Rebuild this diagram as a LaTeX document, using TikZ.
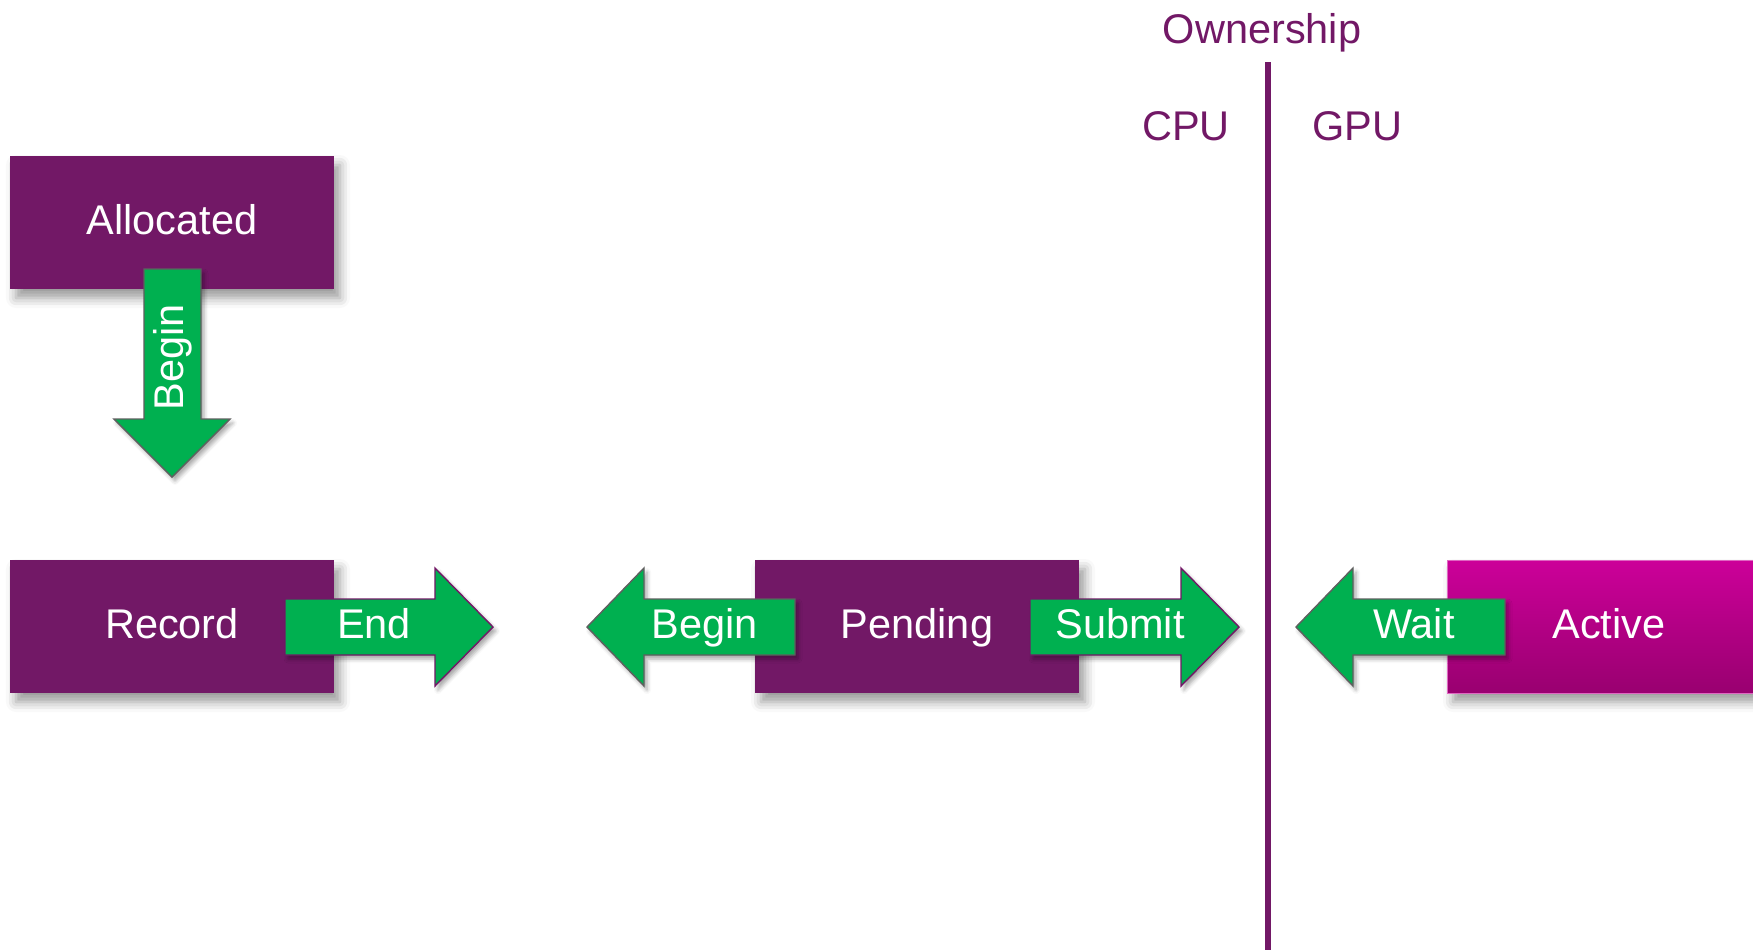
\documentclass[tikz,border=0pt]{standalone}
\usepackage{fontspec}
\setmainfont{Liberation Sans}
\usetikzlibrary{shadows.blur}
\definecolor{vpurple}{RGB}{114,24,102}
\definecolor{vgreen}{RGB}{0,176,80}
\definecolor{vmagtop}{RGB}{204,0,153}
\definecolor{vmagbot}{RGB}{153,0,112}
\definecolor{vgray}{RGB}{95,95,95}
\begin{document}
\begin{tikzpicture}[x=0.5pt,y=-0.5pt,
  every node/.style={inner sep=0pt, outer sep=0pt, font=\fontsize{20.75pt}{24pt}\selectfont},
  boxshadow/.style={blur shadow={shadow xshift=3pt, shadow yshift=-4.5pt, shadow blur radius=5pt, shadow opacity=40}},
  arrowshadow/.style={blur shadow={shadow xshift=1.5pt, shadow yshift=-2pt, shadow blur radius=2pt, shadow opacity=35}},
  statebox/.style={fill=vpurple, text=white, minimum width=162pt, minimum height=66.5pt, text height=11.5pt, text depth=0pt, boxshadow},
  activebox/.style={top color=vmagtop, bottom color=vmagbot, draw=vmagtop!60!white, line width=0.5pt, text=white, minimum width=162pt, minimum height=66.5pt, text height=11.5pt, text depth=0pt, boxshadow},
  blockarrow/.style={fill=vgreen, line width=0.7pt, line join=miter, arrowshadow},
  arrowtext/.style={text=white, anchor=base},
  ownlabel/.style={text=vpurple, anchor=base},
  divider/.style={draw=vpurple, line width=2.8pt},
]
\useasboundingbox (0,0) rectangle (1753,950);

% ownership labels and divider
\node[ownlabel] (own) at (1262,43) {Ownership};
\node[ownlabel] (cpu) at (1186,140) {CPU};
\node[ownlabel] (gpu) at (1357,140) {GPU};
\coordinate (divtop) at (1268,62);
\coordinate (divbot) at (1268,950);
\draw[divider] (divtop) -- (divbot);

% state boxes
\node[statebox] (allocated) at (172,222.5) {Allocated};
\node[statebox] (record) at (172,626.5) {Record};
\node[statebox] (pending) at (917,626.5) {Pending};
\node[activebox] (active) at (1609,626.5) {Active};

% down Begin arrow
\filldraw[blockarrow, draw=vgray] (144,269) -- (201,269) -- (201,419) -- (230,419) -- (172,477) -- (114,419) -- (144,419) -- cycle;
\node[text=white, anchor=base, rotate=90] (begindown) at (183,357) {Begin};

% End arrow
\filldraw[blockarrow, draw=vpurple] (285,599) -- (435,599) -- (435,568) -- (493,627) -- (435,686) -- (435,655) -- (285,655) -- cycle;
\node[arrowtext] (endlbl) at (374,638) {End};

% Begin (left) arrow
\filldraw[blockarrow, draw=vgray] (795,599) -- (644,599) -- (644,568) -- (587,627) -- (644,686) -- (644,655) -- (795,655) -- cycle;
\node[arrowtext] (beginlbl) at (705,638) {Begin};

% Submit arrow
\filldraw[blockarrow, draw=vpurple] (1030,599) -- (1181,599) -- (1181,568) -- (1239,627) -- (1181,686) -- (1181,655) -- (1030,655) -- cycle;
\node[arrowtext] (submitlbl) at (1120,638) {Submit};

% Wait arrow
\filldraw[blockarrow, draw=vgray] (1505,599) -- (1353,599) -- (1353,568) -- (1296,627) -- (1353,686) -- (1353,655) -- (1505,655) -- cycle;
\node[arrowtext] (waitlbl) at (1414,638) {Wait};
\end{tikzpicture}
\end{document}
